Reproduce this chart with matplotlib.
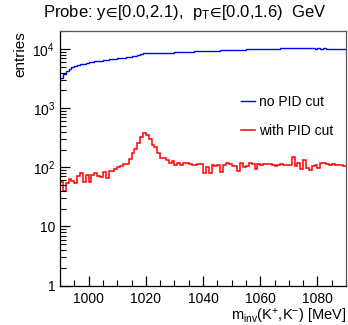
import numpy as np
import matplotlib
matplotlib.use('Agg')
import matplotlib.pyplot as plt
from matplotlib.ticker import FixedLocator, FixedFormatter, MultipleLocator

plt.rcParams['font.family'] = ['Liberation Sans', 'DejaVu Sans']
plt.rcParams['mathtext.fontset'] = 'custom'
plt.rcParams['mathtext.rm'] = 'Liberation Sans'
plt.rcParams['mathtext.it'] = 'Liberation Sans:italic'
plt.rcParams['mathtext.default'] = 'regular'
plt.rcParams['mathtext.fallback'] = 'stixsans'

# binning of the invariant mass histograms (MeV)
mass_lo = 990
mass_hi = 1090
bin_width = 1

# entries per bin
no_pid = [3300, 3800, 4200, 4600, 4900, 5150, 5350, 5550, 5700, 5850,
          5950, 6100, 6200, 6300, 6400, 6500, 6600, 6700, 6800, 6900,
          7000, 7100, 7200, 7300, 7450, 7600, 7750, 7950, 8200, 8450,
          8550, 8500, 8450, 8500, 8550, 8550, 8600, 8650, 8700, 8750,
          8800, 8850, 8900, 8950, 9000, 9050, 9100, 9150, 9200, 9250,
          9250, 9300, 9350, 9400, 9400, 9450, 9500, 9550, 9550, 9600,
          9650, 9700, 9700, 9750, 9800, 9850, 9850, 9900, 9950, 10000,
          10000, 10050, 10100, 10100, 10150, 10200, 10200, 10250, 10300, 10350,
          10400, 10350, 10300, 10350, 10300, 10300, 10250, 10300, 10250, 10200,
          10250, 10200, 10250, 10150, 10200, 10150, 10200, 10100, 10150, 10100]
with_pid = [57, 39, 55, 63, 58, 54, 71, 81, 57, 74,
            57, 74, 79, 72, 68, 84, 66, 88, 85, 92,
            100, 104, 114, 114, 136, 172, 202, 260, 321, 376,
            356, 297, 238, 218, 176, 142, 142, 133, 120, 130,
            110, 120, 110, 116, 120, 112, 110, 109, 113, 113,
            81, 102, 81, 109, 106, 109, 84, 109, 120, 114,
            105, 105, 87, 118, 102, 105, 118, 113, 95, 113,
            109, 113, 113, 113, 109, 105, 109, 113, 109, 109,
            109, 148, 105, 120, 95, 133, 98, 89, 105, 109,
            98, 118, 120, 113, 109, 113, 109, 109, 109, 107]

y_ticks = [1, 10, 100, 1000, 10000]
y_labels = ['1', '10', '$10^{2}$', '$10^{3}$', '$10^{4}$']
x_ticks = [1000, 1020, 1040, 1060, 1080]

edges = np.arange(mass_lo, mass_hi + bin_width, bin_width)

fig = plt.figure(figsize=(3.48, 3.25), dpi=100)
ax = fig.add_axes([0.1724, 0.1215, 0.822, 0.7822])

ax.stairs(no_pid, edges, color='blue', lw=1.0, label='no PID cut', baseline=None)
ax.stairs(with_pid, edges, color='red', lw=1.1, label='with PID cut', baseline=None)

ax.set_yscale('log')
ax.set_xlim(mass_lo, mass_hi)
ax.set_ylim(1, 2.0e4)

ax.yaxis.set_major_locator(FixedLocator(y_ticks))
ax.yaxis.set_major_formatter(FixedFormatter(y_labels))
ax.xaxis.set_major_locator(FixedLocator(x_ticks))
ax.xaxis.set_minor_locator(MultipleLocator(5))

ax.tick_params(which='both', direction='in', top=False, right=False, labelsize=10)
ax.tick_params(which='major', length=7, width=0.9)
ax.tick_params(which='minor', length=4, width=0.8)
ax.tick_params(axis='x', pad=5)
for s in ax.spines.values():
    s.set_linewidth(0.9)
    s.set_color('#555555')
ax.spines['left'].set_color('black')
ax.spines['bottom'].set_color('black')

ax.set_ylabel('entries', loc='top', fontsize=11)
ax.xaxis.set_label_coords(0.985, -0.085)
ax.set_xlabel('m$_{inv}$(K$^{+}$,K$^{-}$) [MeV]', loc='right', fontsize=10.5)

fig.text(0.532, 0.963, r'Probe: y$\!{\in}\!$[0.0,2.1),  p$_{T}$$\!{\in}\!$[0.0,1.6)  GeV',
         ha='center', va='center', fontsize=12)

ax.legend(loc='upper right', bbox_to_anchor=(1.0, 0.8), frameon=False, fontsize=10,
          handlelength=1.0, handletextpad=0.3, labelspacing=1.1)

fig.savefig('out.png', dpi=100)
